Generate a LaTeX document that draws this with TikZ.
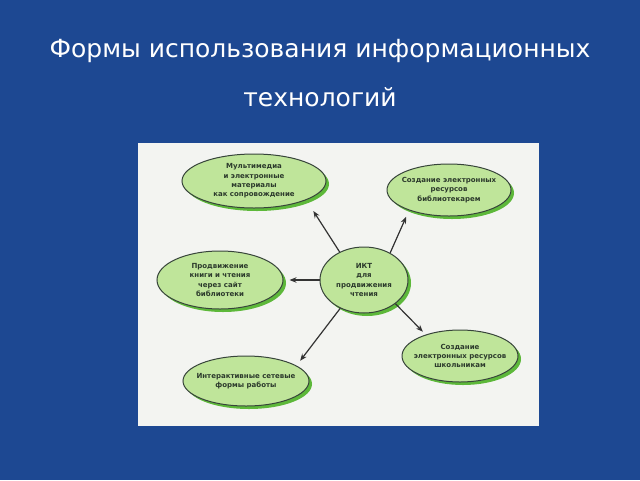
\documentclass[tikz,border=0pt]{standalone}
\usepackage{fontspec}
\setmainfont{DejaVu Sans}
\usetikzlibrary{shapes.geometric,arrows.meta}
\definecolor{bgblue}{HTML}{1D4892}
\definecolor{panel}{HTML}{F3F4F1}
\definecolor{ellfill}{HTML}{BFE59A}
\definecolor{ellshadow}{HTML}{5DB83A}
\definecolor{ellborder}{HTML}{37443A}
\definecolor{txt}{HTML}{2C3A2C}
\tikzset{
  bubble/.style={ellipse, inner xsep=-14pt, inner ysep=-6pt, draw=ellborder, line width=1pt,
    fill=ellfill, text=txt, align=center,
    font=\fontsize{7}{9.3}\selectfont\bfseries,
    preaction={fill=ellshadow, draw=none, transform canvas={shift={(3pt,-3pt)}}}},
  arr/.style={-{Stealth[length=7pt,width=5.5pt]}, line width=1.2pt, draw=black!80},
  title/.style={text=white, font=\fontsize{25}{30}\selectfont}
}
\begin{document}
\begin{tikzpicture}[x=1pt,y=-1pt]
\useasboundingbox (0,0) rectangle (640,480);
\fill[bgblue] (0,0) rectangle (640,480);
\node[title] (t1) at (320,51) {Формы использования информационных};
\node[title] (t2) at (320,97) {технологий};
\fill[panel] (138,143) rectangle (539,426);
\node[bubble, minimum width=144pt, minimum height=54pt] (m1) at (254,181)
  {Мультимедиа\\и электронные\\материалы\\как сопровождение};
\node[bubble, minimum width=124pt, minimum height=52pt] (m2) at (449,190)
  {Создание электронных\\ресурсов\\библиотекарем};
\node[bubble, minimum width=126pt, minimum height=58pt] (m3) at (220,280)
  {Продвижение\\книги и чтения\\через сайт\\библиотеки};
\node[bubble, minimum width=88pt, minimum height=66pt] (c) at (364,280)
  {ИКТ\\для\\продвижения\\чтения};
\node[bubble, minimum width=116pt, minimum height=52pt] (m5) at (460,356)
  {Создание\\электронных ресурсов\\школьникам};
\node[bubble, minimum width=126pt, minimum height=50pt] (m6) at (246,381)
  {Интерактивные сетевые\\формы работы};
\draw[arr, shorten >=13pt] (c.131) -- (m1.-20);
\draw[arr, shorten >=7pt] (c.46) -- (m2.-153);
\draw[arr, shorten >=6pt] (c.180) -- (m3.0);
\draw[arr, shorten >=6pt] (c.230) -- (m6.17);
\draw[arr, shorten >=4pt] (c.-37) -- (m5.148);
\end{tikzpicture}
\end{document}
